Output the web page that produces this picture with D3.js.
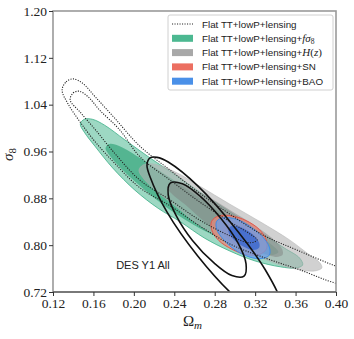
<!DOCTYPE html>
<html>
<head>
<meta charset="utf-8">
<script src="https://cdn.jsdelivr.net/npm/d3@7"></script>
<style>
  body { margin: 0; background: #fff; }
  svg { display: block; }
</style>
</head>
<body>
<div id="chart"></div>
<script>
const xTicks = [0.12, 0.16, 0.20, 0.24, 0.28, 0.32, 0.36, 0.40];
const yTicks = [0.72, 0.80, 0.88, 0.96, 1.04, 1.12, 1.20];

// contour boundaries, [Omega_m, sigma_8]
const ttOuter = [[0.129,1.065],[0.133,1.079],[0.140,1.084],[0.149,1.077],[0.162,1.053],[0.181,1.017],[0.206,0.969],[0.236,0.928],[0.265,0.889],[0.295,0.853],[0.328,0.817],[0.361,0.792],[0.400,0.764],[0.429,0.747],[0.441,0.735],[0.424,0.729],[0.400,0.735],[0.364,0.758],[0.330,0.778],[0.295,0.802],[0.265,0.833],[0.236,0.867],[0.206,0.898],[0.181,0.940],[0.162,0.976],[0.147,1.010],[0.135,1.041]];
const ttInner = [[0.137,1.048],[0.140,1.060],[0.146,1.063],[0.155,1.053],[0.166,1.031],[0.186,0.997],[0.206,0.951],[0.236,0.911],[0.265,0.874],[0.295,0.840],[0.315,0.819],[0.322,0.809],[0.315,0.804],[0.295,0.816],[0.265,0.843],[0.236,0.877],[0.206,0.911],[0.181,0.957],[0.162,0.997],[0.147,1.027]];
const fs8Outer = [[0.147,1.007],[0.151,1.015],[0.159,1.015],[0.171,1.005],[0.191,0.980],[0.216,0.949],[0.241,0.920],[0.265,0.891],[0.295,0.857],[0.325,0.822],[0.349,0.795],[0.364,0.778],[0.367,0.766],[0.360,0.761],[0.345,0.763],[0.320,0.773],[0.295,0.790],[0.270,0.812],[0.246,0.840],[0.224,0.863],[0.201,0.894],[0.179,0.932],[0.162,0.968],[0.151,0.993]];
const fs8Inner = [[0.172,0.966],[0.176,0.973],[0.186,0.969],[0.206,0.949],[0.236,0.915],[0.265,0.881],[0.295,0.846],[0.320,0.819],[0.337,0.800],[0.343,0.788],[0.335,0.783],[0.315,0.792],[0.290,0.809],[0.265,0.829],[0.236,0.860],[0.211,0.894],[0.191,0.925],[0.178,0.949]];
const hzOuter = [[0.205,0.928],[0.209,0.937],[0.218,0.939],[0.241,0.925],[0.265,0.901],[0.295,0.870],[0.325,0.840],[0.354,0.809],[0.374,0.783],[0.384,0.770],[0.386,0.761],[0.379,0.756],[0.364,0.758],[0.345,0.766],[0.320,0.783],[0.295,0.804],[0.265,0.834],[0.241,0.867],[0.221,0.894],[0.209,0.915]];
const hzInner = [[0.233,0.898],[0.238,0.906],[0.248,0.904],[0.270,0.886],[0.295,0.860],[0.320,0.833],[0.340,0.807],[0.347,0.792],[0.347,0.783],[0.340,0.780],[0.320,0.792],[0.295,0.812],[0.270,0.840],[0.251,0.869],[0.238,0.887]];
const snOuter = [[0.331,0.793],[0.324,0.784],[0.311,0.784],[0.297,0.793],[0.284,0.808],[0.277,0.826],[0.277,0.841],[0.284,0.850],[0.297,0.850],[0.311,0.842],[0.324,0.827],[0.331,0.809]];
const snInner = [[0.324,0.801],[0.319,0.795],[0.311,0.795],[0.301,0.800],[0.293,0.810],[0.288,0.821],[0.288,0.831],[0.293,0.836],[0.301,0.836],[0.311,0.831],[0.319,0.821],[0.324,0.810]];
const baoOuter = [[0.334,0.783],[0.326,0.777],[0.314,0.780],[0.300,0.792],[0.289,0.809],[0.282,0.827],[0.282,0.841],[0.289,0.847],[0.302,0.844],[0.315,0.832],[0.327,0.815],[0.334,0.797]];
const baoInner = [[0.324,0.796],[0.320,0.792],[0.313,0.794],[0.305,0.801],[0.298,0.811],[0.294,0.821],[0.294,0.829],[0.298,0.833],[0.305,0.831],[0.313,0.824],[0.320,0.814],[0.324,0.804]];
const desOuter = [[0.347,0.665],[0.329,0.672],[0.298,0.715],[0.263,0.782],[0.233,0.856],[0.216,0.917],[0.213,0.937],[0.216,0.949],[0.223,0.950],[0.234,0.942],[0.264,0.900],[0.299,0.832],[0.330,0.758],[0.347,0.697]];
const desInner = [[0.309,0.747],[0.297,0.748],[0.279,0.770],[0.258,0.808],[0.242,0.850],[0.234,0.886],[0.236,0.906],[0.248,0.905],[0.266,0.883],[0.286,0.846],[0.303,0.804],[0.311,0.768]];

const legendBase = "Flat TT+lowP+lensing";
const legendExtra = ["", "fs8", "Hz", "SN", "BAO"];
const legendColors = ["none", "#4cb891", "#a8a8a8", "#ec6f61", "#4a90e8"];

const width = 354, height = 339;
const margin = { top: 11, right: 18, bottom: 47, left: 53 };
const innerW = width - margin.left - margin.right;
const innerH = height - margin.top - margin.bottom;

const svg = d3.select("#chart").append("svg")
    .attr("width", width)
    .attr("height", height);

const g = svg.append("g")
    .attr("transform", `translate(${margin.left},${margin.top})`);

const x = d3.scaleLinear().domain([0.12, 0.40]).range([0, innerW]);
const y = d3.scaleLinear().domain([0.72, 1.20]).range([innerH, 0]);

g.append("clipPath").attr("id", "clip")
    .append("rect").attr("width", innerW).attr("height", innerH);

const plot = g.append("g").attr("clip-path", "url(#clip)");

const line = d3.line()
    .x(d => x(d[0]))
    .y(d => y(d[1]))
    .curve(d3.curveCatmullRomClosed.alpha(0.5));

function area(pts, fill, opacity, stroke, sw) {
    plot.append("path")
        .attr("d", line(pts))
        .attr("fill", fill)
        .attr("fill-opacity", opacity)
        .attr("stroke", stroke || "none")
        .attr("stroke-width", sw || 0);
}

// filled contours, outer (2 sigma) then inner (1 sigma)
area(fs8Outer, "#4cb891", 0.55, "#3aae86", 0.8);
area(fs8Inner, "#35a67c", 0.7);
area(hzOuter, "#b2b2b2", 0.6, "#b0b0b0", 0.5);
area(hzInner, "#7c7c7c", 0.45);
area(snOuter, "#ee8576", 0.7, "#e4574a", 1);
area(snInner, "#e87565", 0.5);
area(baoOuter, "#6a9ee9", 0.75, "#3d8de8", 1);
area(baoInner, "#2e60cf", 0.7);

// TT+lowP+lensing, dotted lines only
[ttOuter, ttInner].forEach(pts => {
    plot.append("path")
        .attr("d", line(pts))
        .attr("fill", "none")
        .attr("stroke", "#222")
        .attr("stroke-width", 1.1)
        .attr("stroke-dasharray", "1.1,1.4");
});

// DES Y1 All, solid black
[desOuter, desInner].forEach(pts => {
    plot.append("path")
        .attr("d", line(pts))
        .attr("fill", "none")
        .attr("stroke", "#111")
        .attr("stroke-width", 1.6);
});

plot.append("text")
    .attr("x", x(0.209))
    .attr("y", y(0.759))
    .attr("text-anchor", "middle")
    .style("font-family", "'Liberation Sans', Arial, sans-serif")
    .style("font-size", "11px")
    .attr("fill", "#222")
    .text("DES Y1 All");

// Frame
g.append("rect")
    .attr("width", innerW).attr("height", innerH)
    .attr("fill", "none").attr("stroke", "#9a9a9a").attr("stroke-width", 1.6);
g.append("line")
    .attr("x1", 0).attr("x2", innerW).attr("y1", innerH).attr("y2", innerH)
    .attr("stroke", "#444").attr("stroke-width", 1.2);

// Axes
const serif = "'Liberation Serif', 'DejaVu Serif', serif";
const xAxis = g.append("g")
    .attr("transform", `translate(0,${innerH})`)
    .call(d3.axisBottom(x).tickValues(xTicks).tickFormat(d3.format(".2f")).tickSize(4).tickPadding(2));
const yAxis = g.append("g")
    .call(d3.axisLeft(y).tickValues(yTicks).tickFormat(d3.format(".2f")).tickSize(4).tickPadding(2));
[xAxis, yAxis].forEach(a => {
    a.select(".domain").remove();
    a.selectAll("line").attr("stroke", "#333");
    a.selectAll("text")
        .style("font-family", serif)
        .style("font-size", "13.5px")
        .attr("fill", "#222");
});

// Axis labels
const xl = g.append("text")
    .attr("x", x(0.258))
    .attr("y", innerH + 34)
    .attr("text-anchor", "middle")
    .style("font-family", serif)
    .style("font-size", "15px")
    .attr("fill", "#222");
xl.append("tspan").text("\u03A9");
xl.append("tspan").attr("dy", 3).style("font-style", "italic").style("font-size", "11px").text("m");

const yl = g.append("text")
    .attr("transform", `translate(-40,${y(0.955)}) rotate(-90)`)
    .attr("text-anchor", "middle")
    .style("font-family", serif)
    .style("font-size", "15px")
    .attr("fill", "#222");
yl.append("tspan").style("font-style", "italic").text("\u03C3");
yl.append("tspan").attr("dy", 3).style("font-size", "11px").text("8");

// Legend
const legend = svg.append("g").attr("transform", "translate(168,15)");
legend.append("rect")
    .attr("width", 165).attr("height", 75).attr("rx", 2)
    .attr("fill", "#fff").attr("fill-opacity", 0.85)
    .attr("stroke", "#d0d0d0").attr("stroke-width", 1);

legendExtra.forEach((extra, i) => {
    const cy = 9 + i * 14.3;
    if (i === 0) {
        legend.append("line")
            .attr("x1", 4).attr("x2", 25).attr("y1", cy).attr("y2", cy)
            .attr("stroke", "#222").attr("stroke-width", 1)
            .attr("stroke-dasharray", "1.1,1.4");
    } else {
        legend.append("rect")
            .attr("x", 4).attr("y", cy - 3.5).attr("width", 21).attr("height", 7)
            .attr("fill", legendColors[i]);
    }
    const t = legend.append("text")
        .attr("x", 34).attr("y", cy + 3.5)
        .style("font-family", "'Liberation Sans', Arial, sans-serif")
        .style("font-size", "9.8px")
        .attr("fill", "#222");
    t.append("tspan").text(legendBase);
    if (!extra) return;
    t.append("tspan").text("+");
    if (extra === "fs8") {
        t.append("tspan").style("font-family", serif).style("font-style", "italic").style("font-size", "11px").text("f\u03C3");
        t.append("tspan").attr("dy", 2).style("font-family", serif).style("font-size", "7.5px").text("8");
    } else if (extra === "Hz") {
        const m = t.append("tspan").style("font-family", serif).style("font-size", "11px");
        m.append("tspan").style("font-style", "italic").text("H");
        m.append("tspan").text("(");
        m.append("tspan").style("font-style", "italic").text("z");
        m.append("tspan").text(")");
    } else {
        t.append("tspan").text(extra);
    }
});
</script>
</body>
</html>
